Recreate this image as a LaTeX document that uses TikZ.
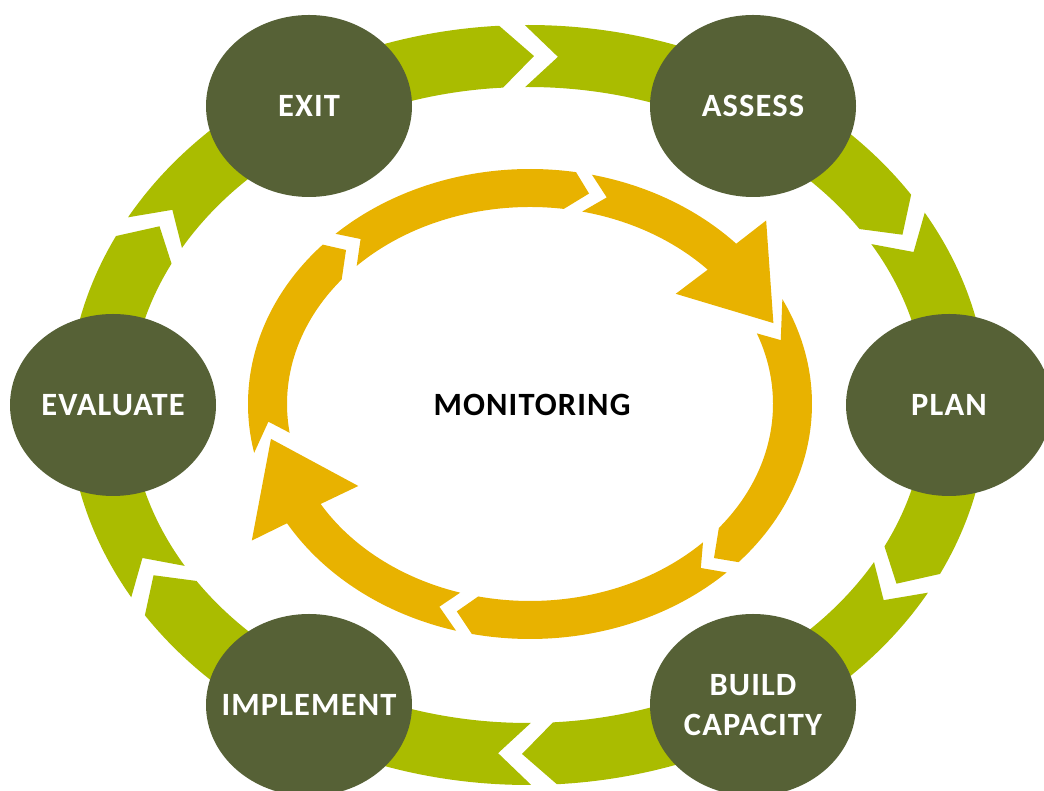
\documentclass[tikz,border=0pt]{standalone}
\usepackage{fontspec}
\setmainfont{Carlito}[LetterSpace=3.5]
\usetikzlibrary{shapes.geometric}
\definecolor{ringgreen}{RGB}{170,188,0}
\definecolor{stagegreen}{RGB}{86,97,54}
\definecolor{loopgold}{RGB}{232,178,0}
\begin{document}
\begin{tikzpicture}[x=1pt, y=1pt, line join=round,
  stage/.style={ellipse, fill=stagegreen, minimum width=206, minimum height=182, inner sep=0,
    text=white, font=\bfseries\fontsize{32.5}{40}\selectfont},
  hubtext/.style={text=black, font=\bfseries\fontsize{32.5}{40}\selectfont}]
\def\oa{460} \def\ob{380} \def\ia{398} \def\ib{318} \def\ma{429} \def\mb{349}
\def\hgap{1.6} \def\dep{4.4}
\clip (0,0) rectangle (1044,791);
% outer ring of chevrons
\begin{scope}[shift={(528,386)}]
\foreach \g in {92,32,-28,-88,-148,-208}
  \fill[ringgreen] ({\oa*cos(\g-\hgap)},{\ob*sin(\g-\hgap)})
    arc[start angle=\g-\hgap, end angle=\g-60+\hgap, x radius=\oa, y radius=\ob]
    -- ({\ma*cos(\g-60+\hgap-\dep)},{\mb*sin(\g-60+\hgap-\dep)})
    -- ({\ia*cos(\g-60+\hgap)},{\ib*sin(\g-60+\hgap)})
    arc[start angle=\g-60+\hgap, end angle=\g-\hgap, x radius=\ia, y radius=\ib]
    -- ({\ma*cos(\g-\hgap-\dep)},{\mb*sin(\g-\hgap-\dep)}) -- cycle;
\end{scope}
% stages
\node[stage] (exit) at (309,685) {\makebox[0pt]{EXIT}};
\node[stage] (assess) at (753,685) {\makebox[0pt]{ASSESS}};
\node[stage] (plan) at (949,386) {\makebox[0pt]{PLAN}};
\node[stage] (build) at (753,86) {\makebox[0pt]{\raisebox{-3pt}[\height][\depth]{\begin{tabular}{@{}c@{}}BUILD\\CAPACITY\end{tabular}}}};
\node[stage] (implement) at (309,86) {\makebox[0pt]{IMPLEMENT}};
\node[stage] (evaluate) at (113,386) {\makebox[0pt]{EVALUATE}};
% inner loop
\def\ra{282} \def\rb{235} \def\sa{243} \def\sb{197} \def\ca{262.5} \def\cb{216}
\def\loopseg#1#2#3#4#5#6{\fill[loopgold] ({\ra*cos(#1)},{\rb*sin(#1)})
  arc[start angle=#1, end angle=#4, x radius=\ra, y radius=\rb]
  -- ({\ca*cos(#6)},{\cb*sin(#6)}) -- ({\sa*cos(#5)},{\sb*sin(#5)})
  arc[start angle=#5, end angle=#2, x radius=\sa, y radius=\sb]
  -- ({\ca*cos(#3)},{\cb*sin(#3)}) -- cycle;}
\def\loophead#1#2#3#4#5{\fill[loopgold] ({\ra*cos(#1)},{\rb*sin(#1)})
  arc[start angle=#1, end angle=#4, x radius=\ra, y radius=\rb]
  -- ({1.145*\ra*cos(#4)},{1.145*\rb*sin(#4)}) -- ({\ca*cos(#5)},{\cb*sin(#5)})
  -- ({0.82*\sa*cos(#4)},{0.82*\sb*sin(#4)}) -- ({\sa*cos(#4)},{\sb*sin(#4)})
  arc[start angle=#4, end angle=#2, x radius=\sa, y radius=\sb]
  -- ({\ca*cos(#3)},{\cb*sin(#3)}) -- cycle;}
\begin{scope}[shift={(530,387)}]
\loopseg{192}{188.4}{184.7}{137.3}{140.8}{134.5}
\loopseg{133.6}{135.5}{130.2}{80.6}{82}{77}
\loophead{77.3}{77.6}{73}{43}{22}
\loopseg{26.5}{21}{17.2}{-42.3}{-39}{-45.5}
\loopseg{-45.8}{-44.6}{-49.4}{-101.9}{-102.3}{-106.2}
\loophead{-105.2}{-106.7}{-110.2}{-149.5}{-170.7}
\end{scope}
\node[hubtext] (hub) at (532,386) {MONITORING};
\end{tikzpicture}
\end{document}
